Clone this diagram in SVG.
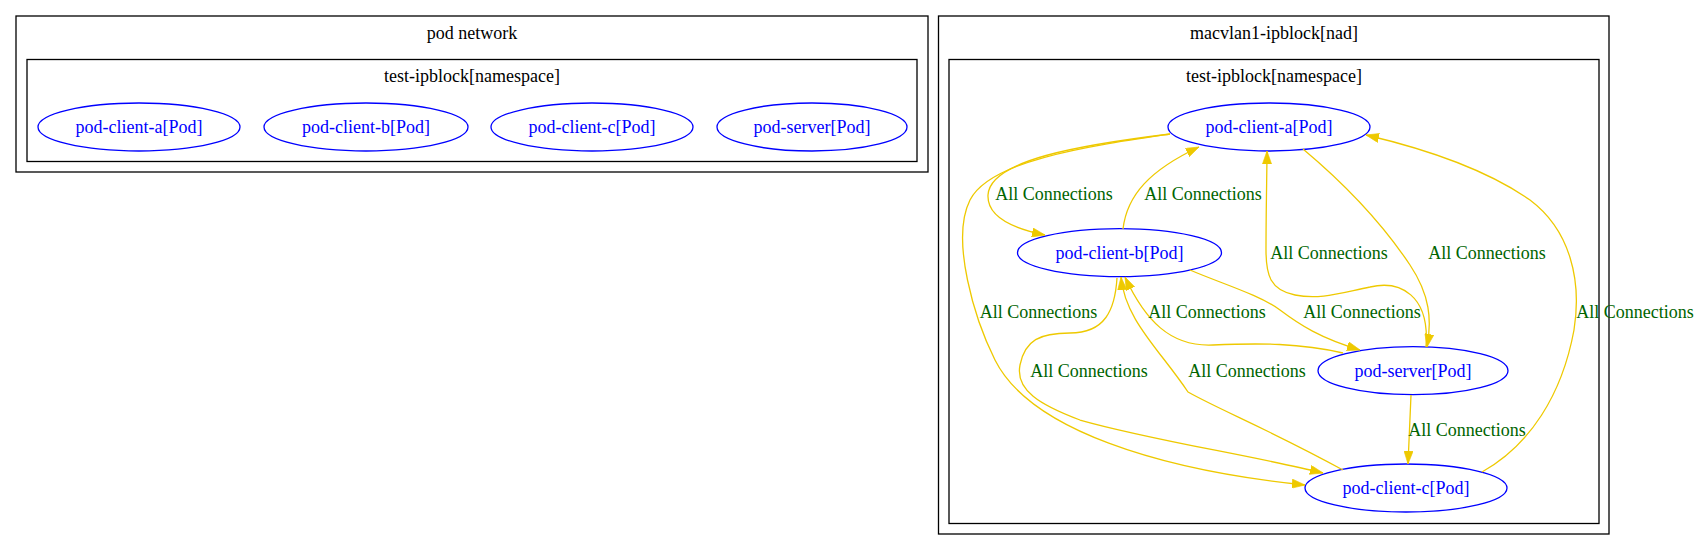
<svg xmlns="http://www.w3.org/2000/svg" width="1699" height="550" viewBox="0 0 1699 550">
<style>
.cl{fill:none;stroke:#000;stroke-width:1.3}
.ct{font-family:"Liberation Serif",serif;font-size:18px;fill:#000;text-anchor:middle}
.nd{fill:none;stroke:#0000ff;stroke-width:1.3}
.nt{font-family:"Liberation Serif",serif;font-size:18px;fill:#0000ff;text-anchor:middle}
.ed{fill:none;stroke:#eec900;stroke-width:1.3}
.el{font-family:"Liberation Serif",serif;font-size:18px;fill:#006400;text-anchor:middle}
</style>
<defs>
<marker id="ah" viewBox="0 0 10 7" refX="10" refY="3.5" markerWidth="13" markerHeight="9.5" markerUnits="userSpaceOnUse" orient="auto">
<path d="M0,0 L10,3.5 L0,7 z" fill="#eec900" stroke="#eec900" stroke-width="0.5"/>
</marker>
</defs>
<rect width="1699" height="550" fill="#fff"/>
<g id="cluster-pod-network">
<rect class="cl" x="16" y="16" width="912" height="156"/>
<text class="ct" x="472" y="39">pod network</text>
<rect class="cl" x="27" y="59.5" width="890" height="102"/>
<text class="ct" x="472" y="82">test-ipblock[namespace]</text>
</g>
<g id="cluster-macvlan">
<rect class="cl" x="938.5" y="16" width="670.5" height="518"/>
<text class="ct" x="1274" y="39">macvlan1-ipblock[nad]</text>
<rect class="cl" x="949" y="59.5" width="650" height="464"/>
<text class="ct" x="1274" y="82">test-ipblock[namespace]</text>
</g>
<g id="pn-pod-client-a"><ellipse class="nd" cx="139" cy="127" rx="101" ry="24"/><text class="nt" x="139" y="133">pod-client-a[Pod]</text></g>
<g id="pn-pod-client-b"><ellipse class="nd" cx="366" cy="127" rx="102" ry="24"/><text class="nt" x="366" y="133">pod-client-b[Pod]</text></g>
<g id="pn-pod-client-c"><ellipse class="nd" cx="592" cy="127" rx="101" ry="24"/><text class="nt" x="592" y="133">pod-client-c[Pod]</text></g>
<g id="pn-pod-server"><ellipse class="nd" cx="812" cy="127" rx="95" ry="24"/><text class="nt" x="812" y="133">pod-server[Pod]</text></g>
<g id="mv-pod-client-a"><ellipse class="nd" cx="1269" cy="127" rx="101" ry="24"/><text class="nt" x="1269" y="133">pod-client-a[Pod]</text></g>
<g id="mv-pod-client-b"><ellipse class="nd" cx="1119.5" cy="252.7" rx="102" ry="24"/><text class="nt" x="1119.5" y="258.7">pod-client-b[Pod]</text></g>
<g id="mv-pod-server"><ellipse class="nd" cx="1413" cy="370.7" rx="95" ry="24"/><text class="nt" x="1413" y="376.7">pod-server[Pod]</text></g>
<g id="mv-pod-client-c"><ellipse class="nd" cx="1406" cy="488" rx="101" ry="24"/><text class="nt" x="1406" y="494">pod-client-c[Pod]</text></g>
<g id="connectors">
<path class="ed" marker-end="url(#ah)" d="M1170,134 C1080,145 990,160 988,195 C987,215 1010,228 1045,235"/>
<path class="ed" marker-end="url(#ah)" d="M1123,229 C1127,195 1150,170 1199,147"/>
<path class="ed" marker-end="url(#ah)" d="M1170,134 C1090,146 990,160 970,200 C950,240 975,320 995,360 C1030,430 1160,470 1305,485"/>
<path class="ed" marker-end="url(#ah)" d="M1426,347 C1430,295 1400,280 1370,287 C1340,293 1320,300 1295,295 C1270,290 1266,275 1266,250 C1266,210 1267,170 1267,151"/>
<path class="ed" marker-end="url(#ah)" d="M1303,149 C1340,180 1380,220 1410,265 C1430,295 1432,320 1427,347"/>
<path class="ed" marker-end="url(#ah)" d="M1190,270 C1220,283 1260,295 1280,310 C1300,325 1320,338 1360,350"/>
<path class="ed" marker-end="url(#ah)" d="M1343,353 C1300,343 1260,343 1213,345 C1170,347 1145,320 1125,277"/>
<path class="ed" marker-end="url(#ah)" d="M1343,470 C1270,430 1220,410 1188,392 C1160,350 1125,320 1121,277"/>
<path class="ed" marker-end="url(#ah)" d="M1117,278 C1115,310 1105,333 1070,333 C1040,333 1025,340 1020,365 C1015,390 1040,405 1080,420 C1150,440 1250,455 1323,473"/>
<path class="ed" marker-end="url(#ah)" d="M1411,395 C1410,420 1409,440 1408,464"/>
<path class="ed" marker-end="url(#ah)" d="M1482,472 C1530,445 1562,395 1574,330 C1582,280 1570,230 1530,200 C1490,172 1430,150 1366,135"/>
</g>
<g id="edge-labels">
<text class="el" x="1054" y="200">All Connections</text>
<text class="el" x="1203" y="200">All Connections</text>
<text class="el" x="1329" y="259">All Connections</text>
<text class="el" x="1487" y="259">All Connections</text>
<text class="el" x="1038.5" y="318">All Connections</text>
<text class="el" x="1207" y="318">All Connections</text>
<text class="el" x="1362" y="318">All Connections</text>
<text class="el" x="1635" y="318">All Connections</text>
<text class="el" x="1089" y="377">All Connections</text>
<text class="el" x="1247" y="377">All Connections</text>
<text class="el" x="1467" y="436">All Connections</text>
</g>
</svg>
